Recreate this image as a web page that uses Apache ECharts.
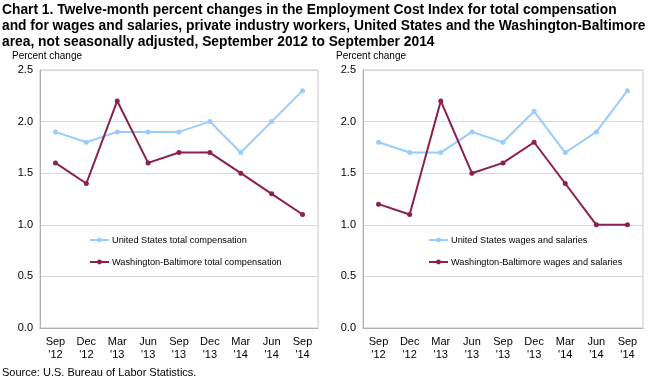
<!DOCTYPE html>
<html><head><meta charset="utf-8">
<script src="https://cdn.jsdelivr.net/npm/echarts@6/dist/echarts.min.js"></script>
<style>html,body{margin:0;padding:0;background:#fff}#c{width:650px;height:379px}</style>
</head><body><div id="c"></div>
<script>
const categories = ["Sep\n'12","Dec\n'12","Mar\n'13","Jun\n'13","Sep\n'13","Dec\n'13","Mar\n'14","Jun\n'14","Sep\n'14"];
const usTotalComp = [1.9,1.8,1.9,1.9,1.9,2.0,1.7,2.0,2.3];
const wbTotalComp = [1.6,1.4,2.2,1.6,1.7,1.7,1.5,1.3,1.1];
const usWages = [1.8,1.7,1.7,1.9,1.8,2.1,1.7,1.9,2.3];
const wbWages = [1.2,1.1,2.2,1.5,1.6,1.8,1.4,1.0,1.0];
const yTicks = {min:0, max:2.5, interval:0.5};

const FONT = '"Liberation Sans", Arial, sans-serif';
const BLUE = '#99ccff', MAROON = '#8a1f52';
const chart = echarts.init(document.getElementById('c'));

function xAxis(i){return {type:'category',gridIndex:i,data:categories,boundaryGap:true,
  axisLine:{lineStyle:{color:'#b0b0b0'}},axisTick:{alignWithLabel:true,length:4,lineStyle:{color:'#b0b0b0'}},
  axisLabel:{color:'#000',fontFamily:FONT,fontSize:11,lineHeight:13,margin:7,interval:0}};}
function yAxis(i){return {type:'value',gridIndex:i,min:yTicks.min,max:yTicks.max,interval:yTicks.interval,
  axisLine:{show:true,lineStyle:{color:'#b0b0b0'}},axisTick:{show:false},
  axisLabel:{color:'#000',fontFamily:FONT,fontSize:11,margin:7,formatter:v=>v.toFixed(1)},
  splitLine:{lineStyle:{color:'#d9d9d9'}}};}
function ser(name,data,color,i){return {name,type:'line',xAxisIndex:i,yAxisIndex:i,data,
  symbol:'circle',symbolSize:5,lineStyle:{width:2,color},itemStyle:{color},z:3};}
function legend(left,names){return {orient:'vertical',left,top:234,padding:0,itemGap:10,itemWidth:19,itemHeight:6,
  data:names,textStyle:{fontFamily:FONT,fontSize:9.2,lineHeight:12,color:'#000',padding:[0,0,0,-2]}};}

chart.setOption({
  animation:false,
  title:{text:'Chart 1. Twelve-month percent changes in the Employment Cost Index for total compensation\nand for wages and salaries, private industry workers, United States and the Washington-Baltimore\narea, not seasonally adjusted, September 2012 to September 2014',
    left:2,top:2,padding:0,textStyle:{fontFamily:FONT,fontSize:13.8,fontWeight:'bold',lineHeight:16,color:'#000'}},
  graphic:[
    {type:'text',left:12,top:51,style:{text:'Percent change',font:'10px '+FONT,fill:'#000'}},
    {type:'text',left:336,top:51,style:{text:'Percent change',font:'10px '+FONT,fill:'#000'}},
    {type:'text',left:2,top:367,style:{text:'Source: U.S. Bureau of Labor Statistics.',font:'11px '+FONT,fill:'#000'}}
  ],
  grid:[
    {left:40,top:70,width:278,height:258,show:true,borderColor:'#c8c8c8',borderWidth:1},
    {left:363,top:70,width:280,height:258,show:true,borderColor:'#c8c8c8',borderWidth:1}
  ],
  xAxis:[xAxis(0),xAxis(1)],
  yAxis:[yAxis(0),yAxis(1)],
  legend:[legend(89,['United States total compensation','Washington-Baltimore total compensation']),
          legend(428,['United States wages and salaries','Washington-Baltimore wages and salaries'])],
  series:[
    ser('United States total compensation',usTotalComp,BLUE,0),
    ser('Washington-Baltimore total compensation',wbTotalComp,MAROON,0),
    ser('United States wages and salaries',usWages,BLUE,1),
    ser('Washington-Baltimore wages and salaries',wbWages,MAROON,1)
  ]
});
</script></body></html>
